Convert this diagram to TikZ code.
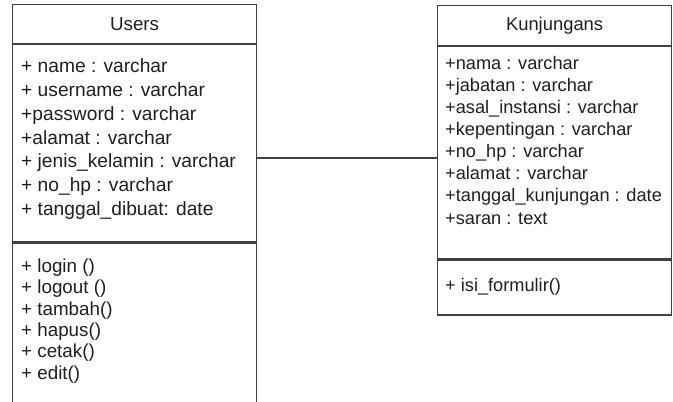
\documentclass[tikz,border=0pt]{standalone}
\usepackage{fontspec}
\setmainfont{Liberation Sans}
\usetikzlibrary{positioning}

\definecolor{umlline}{gray}{0.25}
\definecolor{umltext}{gray}{0.12}

\begin{document}
\begin{tikzpicture}[
    x=1pt, y=-1pt,
    font=\fontsize{18.8}{22}\selectfont,
    classpart/.style={
        draw=umlline,
        line width=1.2pt,
        inner sep=0pt,
        anchor=north west,
        text=umltext
    },
    members/.style={
        align=left,
        inner sep=0pt,
        anchor=north west,
        text=umltext
    }
]
\useasboundingbox (0,0) rectangle (673,402);
\clip (0,0) rectangle (673,402);

% Users class
\node[classpart, minimum width=244pt, minimum height=39pt] (usershead) at (12,4) {Users};
\node[classpart, minimum width=244pt, minimum height=197pt] (usersattr) at (usershead.south west) {};
\node[classpart, minimum width=244pt, minimum height=180pt] (usersops) at (usersattr.south west) {};

\node[members, font=\fontsize{19.2}{23.8}\selectfont] (usersattrlist) at (21,58.6)
{+ name : varchar\\
+ username : varchar\\
+password : varchar\\
+alamat : varchar\\
+ jenis\_kelamin : varchar\\
+ no\_hp : varchar\\
+ tanggal\_dibuat: date};

\node[members, font=\fontsize{18.8}{21.4}\selectfont] (usersopslist) at (21,258.5)
{+ login ()\\
+ logout ()\\
+ tambah()\\
+ hapus()\\
+ cetak()\\
+ edit()};

% Kunjungans class
\node[classpart, minimum width=234pt, minimum height=40pt, font=\fontsize{18.4}{22}\selectfont] (kunjhead) at (437,5) {Kunjungans};
\node[classpart, minimum width=234pt, minimum height=212pt] (kunjattr) at (kunjhead.south west) {};
\node[classpart, minimum width=234pt, minimum height=55pt] (kunjops) at (kunjattr.south west) {};

\node[members, font=\fontsize{18.2}{22.1}\selectfont] (kunjattrlist) at (445,56)
{+nama : varchar\\
+jabatan : varchar\\
+asal\_instansi : varchar\\
+kepentingan : varchar\\
+no\_hp : varchar\\
+alamat : varchar\\
+tanggal\_kunjungan : date\\
+saran : text};

\node[members, font=\fontsize{18.2}{22}\selectfont] (kunjopslist) at (445,278) {+ isi\_formulir()};

% Association
\coordinate (link) at (0,158);
\draw[umlline, line width=1.2pt] (usersattr.east |- link) -- (kunjattr.west |- link);

\end{tikzpicture}
\end{document}
